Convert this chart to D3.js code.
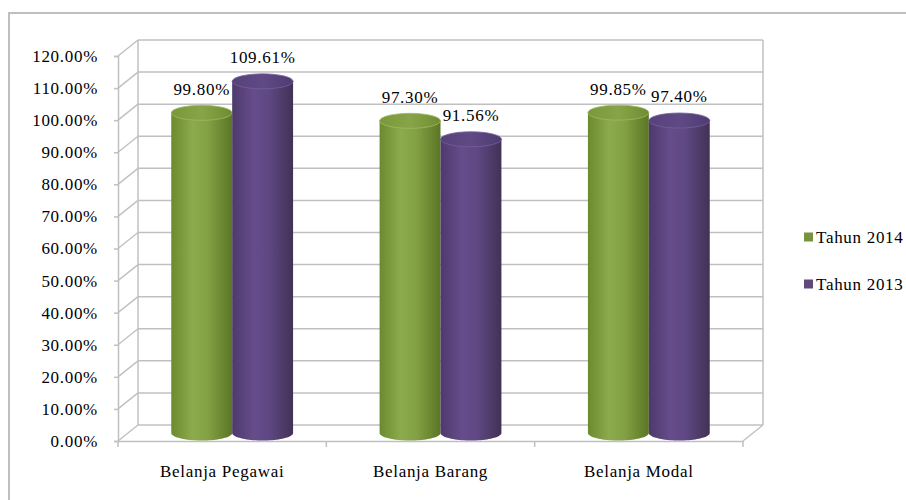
<!DOCTYPE html>
<html><head><meta charset="utf-8">
<script src="https://cdn.jsdelivr.net/npm/d3@7"></script>
<style>html,body{margin:0;padding:0;background:#fff;}svg{display:block;}</style>
</head><body>
<svg id="chart" width="906" height="500"></svg>
<script>
const categories = ["Belanja Pegawai", "Belanja Barang", "Belanja Modal"];
const seriesNames = ["Tahun 2014", "Tahun 2013"];
const tahun2014 = [99.80, 97.30, 99.85];
const tahun2013 = [109.61, 91.56, 97.40];
const yTicks = [0, 10, 20, 30, 40, 50, 60, 70, 80, 90, 100, 110, 120];

const svg = d3.select("#chart");
const font = "'Liberation Serif', 'Times New Roman', serif";
const FS = 17, LS = 0.7;
const grid = "#c0c0c0";

function styleText(sel) {
  sel.attr("font-family", font).attr("font-size", FS).attr("letter-spacing", LS).attr("fill", "#000");
}

// outer frame
svg.append("rect").attr("x", 9).attr("y", 13).attr("width", 1000).attr("height", 1000)
  .attr("fill", "none").attr("stroke", "#bfbfbf").attr("stroke-width", 2);

const x = d3.scaleBand().domain(categories).range([118, 743]);
const y = d3.scaleLinear().domain([0, 120]).range([441, 56]);
const DX = 20, DY = -16;

const g = svg.append("g");
yTicks.forEach(t => {
  const yf = y(t);
  g.append("line").attr("x1", 118 + DX).attr("x2", 743 + DX).attr("y1", yf + DY).attr("y2", yf + DY)
    .attr("stroke", grid).attr("stroke-width", 1.5);
  g.append("line").attr("x1", 118).attr("x2", 118 + DX).attr("y1", yf).attr("y2", yf + DY)
    .attr("stroke", grid).attr("stroke-width", 1.5);
});
g.append("line").attr("x1", 118 + DX).attr("x2", 118 + DX).attr("y1", y(120) + DY).attr("y2", y(0) + DY).attr("stroke", grid).attr("stroke-width", 1.5);
g.append("line").attr("x1", 743 + DX).attr("x2", 743 + DX).attr("y1", y(120) + DY).attr("y2", y(0) + DY).attr("stroke", grid).attr("stroke-width", 1.5);
g.append("line").attr("x1", 743).attr("x2", 743 + DX).attr("y1", y(0)).attr("y2", y(0) + DY).attr("stroke", grid).attr("stroke-width", 1.5);

// y axis (front)
const yAxis = d3.axisLeft(y).tickValues(yTicks).tickSize(4).tickPadding(16)
  .tickFormat(d => d3.format(".2f")(d) + "%");
const ya = svg.append("g").attr("transform", "translate(118,0)").call(yAxis);
ya.select(".domain").attr("stroke", grid).attr("stroke-width", 1.5);
ya.selectAll(".tick line").attr("stroke", grid).attr("stroke-width", 1.5);
styleText(ya.selectAll("text"));

// x axis (front)
const xAxis = d3.axisBottom(x).tickSize(0).tickPadding(24);
const xa = svg.append("g").attr("transform", "translate(0," + y(0) + ")").call(xAxis);
xa.select(".domain").attr("stroke", grid).attr("stroke-width", 1.5);
styleText(xa.selectAll("text"));
const bounds = [118].concat(categories.map(c => x(c) + x.bandwidth()));
bounds.forEach(b => svg.append("line").attr("x1", b).attr("x2", b).attr("y1", y(0)).attr("y2", y(0) + 6)
  .attr("stroke", grid).attr("stroke-width", 1.5));

// gradients
const defs = svg.append("defs");
function grad(id, stops) {
  const lg = defs.append("linearGradient").attr("id", id).attr("x1", "0").attr("x2", "1").attr("y1", "0").attr("y2", "0");
  stops.forEach(s => lg.append("stop").attr("offset", s[0]).attr("stop-color", s[1]));
}
grad("gGreen", [[0, "#6c8a2f"], [0.35, "#8cab4c"], [0.6, "#83a144"], [1, "#5b7625"]]);
grad("gPurple", [[0, "#4d3a6c"], [0.35, "#664c8b"], [0.6, "#5f4883"], [1, "#413255"]]);
grad("gGreenTop", [[0, "#7a983a"], [0.5, "#87a548"], [1, "#708c33"]]);
grad("gPurpleTop", [[0, "#56427a"], [0.5, "#604a86"], [1, "#4e3c70"]]);

const xs = d3.scaleBand().domain(seriesNames).range([0, x.bandwidth()]).paddingInner(0).paddingOuter(0.71);
const series = [
  { name: seriesNames[0], values: tahun2014, body: "url(#gGreen)", top: "url(#gGreenTop)", rim: "#9cba60" },
  { name: seriesNames[1], values: tahun2013, body: "url(#gPurple)", top: "url(#gPurpleTop)", rim: "#765e9c" }
];
const RY = 7.5;
const bars = svg.append("g");
const labels = [];
categories.forEach((c, i) => {
  series.forEach(s => {
    const v = s.values[i];
    const x0 = x(c) + xs(s.name) + DX / 2;
    const w = xs.bandwidth();
    const rx = w / 2;
    const cx = x0 + rx;
    const yt = y(v) + DY / 2;
    const yb = y(0) + DY / 2;
    const p = d3.path();
    p.moveTo(x0, yt);
    p.lineTo(x0, yb);
    d3.range(0, 41).forEach(k => {
      const a = Math.PI - Math.PI * k / 40;
      p.lineTo(cx + rx * Math.cos(a), yb + RY * Math.sin(a));
    });
    p.lineTo(x0 + w, yt);
    p.closePath();
    bars.append("path").attr("d", p.toString()).attr("fill", s.body);
    bars.append("ellipse").attr("cx", cx).attr("cy", yt).attr("rx", rx).attr("ry", RY)
      .attr("fill", s.top).attr("stroke", s.rim).attr("stroke-width", 0.8);
    labels.push({ cx: cx, y: yt - 24, text: d3.format(".2f")(v) + "%" });
  });
});
styleText(svg.append("g").selectAll("text").data(labels).join("text")
  .attr("x", d => d.cx).attr("y", d => d.y).attr("dy", "0.35em").attr("text-anchor", "middle")
  .text(d => d.text));

// legend
const colors = ["#77933c", "#604a7b"];
const lg = svg.append("g");
seriesNames.forEach((n, i) => {
  const yy = 237 + i * 47;
  lg.append("rect").attr("x", 804).attr("y", yy - 4.5).attr("width", 9).attr("height", 9).attr("fill", colors[i]);
  styleText(lg.append("text").attr("x", 816).attr("y", yy).attr("dy", "0.35em").text(n));
});
</script>
</body></html>
